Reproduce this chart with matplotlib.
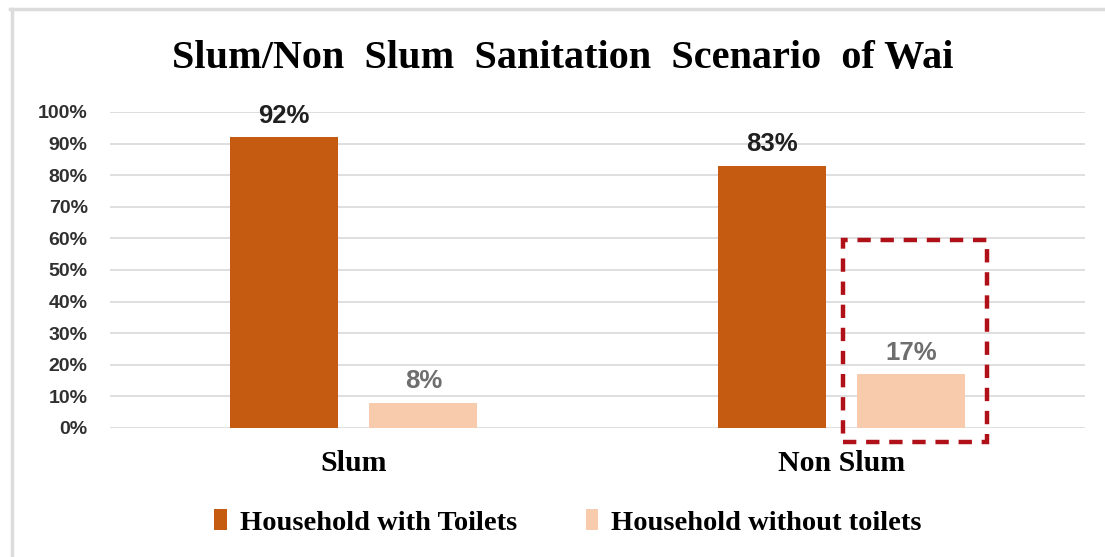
import matplotlib.pyplot as plt
from matplotlib.patches import Rectangle
from matplotlib.lines import Line2D

categories = ["Slum", "Non Slum"]
with_toilets = [92, 83]
without_toilets = [8, 17]
series_names = ["Household with Toilets", "Household without toilets"]

dark = "#c55a11"
light = "#f8cbad"

fig = plt.figure(figsize=(11.05, 5.57), dpi=100)
ax = fig.add_axes([0.0995, 0.2316, 0.8825, 0.5674])

x = range(len(categories))
w = 0.222
off = 0.1426
b1 = ax.bar([i - off for i in x], with_toilets, w, color=dark, label=series_names[0], zorder=3)
b2 = ax.bar([i + off for i in x], without_toilets, w, color=light, label=series_names[1], zorder=3)

# value labels above bars
for i, v in enumerate(with_toilets):
    ax.text(i - off, v + 3.0, f"{v}%", ha="center", va="bottom", fontsize=18.5,
            fontweight="bold", color="#202020", family="Liberation Sans")
for i, v in enumerate(without_toilets):
    ax.text(i + off, v + 3.0, f"{v}%", ha="center", va="bottom", fontsize=18.5,
            fontweight="bold", color="#6e6e6e", family="Liberation Sans")

ax.set_xlim(-0.5, 1.5)
ax.set_ylim(0, 100)
ax.set_yticks(range(0, 101, 10))
ax.set_yticklabels([f"{t}%" for t in range(0, 101, 10)], fontsize=14,
                   fontweight="bold", family="Liberation Sans", color="#303030")
ax.set_xticks(list(x))
ax.set_xticklabels(categories, fontsize=21.5, fontweight="bold", family="Liberation Serif")
ax.tick_params(axis="both", length=0)
ax.tick_params(axis="x", pad=16)
ax.tick_params(axis="y", pad=16)
ax.grid(axis="y", color="#d9d9d9", linewidth=1.2, zorder=0)
for s in ax.spines.values():
    s.set_visible(False)

# dashed highlight around the non slum "without toilets" bar
ax.add_patch(Rectangle((1.004, -4.4), 0.295, 64.0, fill=False, edgecolor="#b01018",
                       linestyle=(0, (3, 2.2)), linewidth=3.2, clip_on=False, zorder=4))

fig.text(0.509, 0.895, "Slum/Non  Slum  Sanitation  Scenario  of Wai", ha="center", va="center",
         fontsize=29, fontweight="bold", family="Liberation Serif")

fig.legend(handles=[b1, b2], labels=series_names, loc="center", bbox_to_anchor=(0.514, 0.062),
           ncol=2, frameon=False, handlelength=0.45, handleheight=0.75, handletextpad=0.45,
           columnspacing=2.4, prop={"family": "Liberation Serif", "weight": "bold", "size": 20.5})

# light frame lines on the top and left edges
fig.add_artist(Line2D([0.0095, 1.0], [0.983, 0.983], color="#dcdcdc", linewidth=2.5,
                      transform=fig.transFigure))
fig.add_artist(Line2D([0.0105, 0.0105], [0.0, 0.983], color="#dcdcdc", linewidth=2.5,
                      transform=fig.transFigure))

fig.savefig("out.png", dpi=100, facecolor="white")
